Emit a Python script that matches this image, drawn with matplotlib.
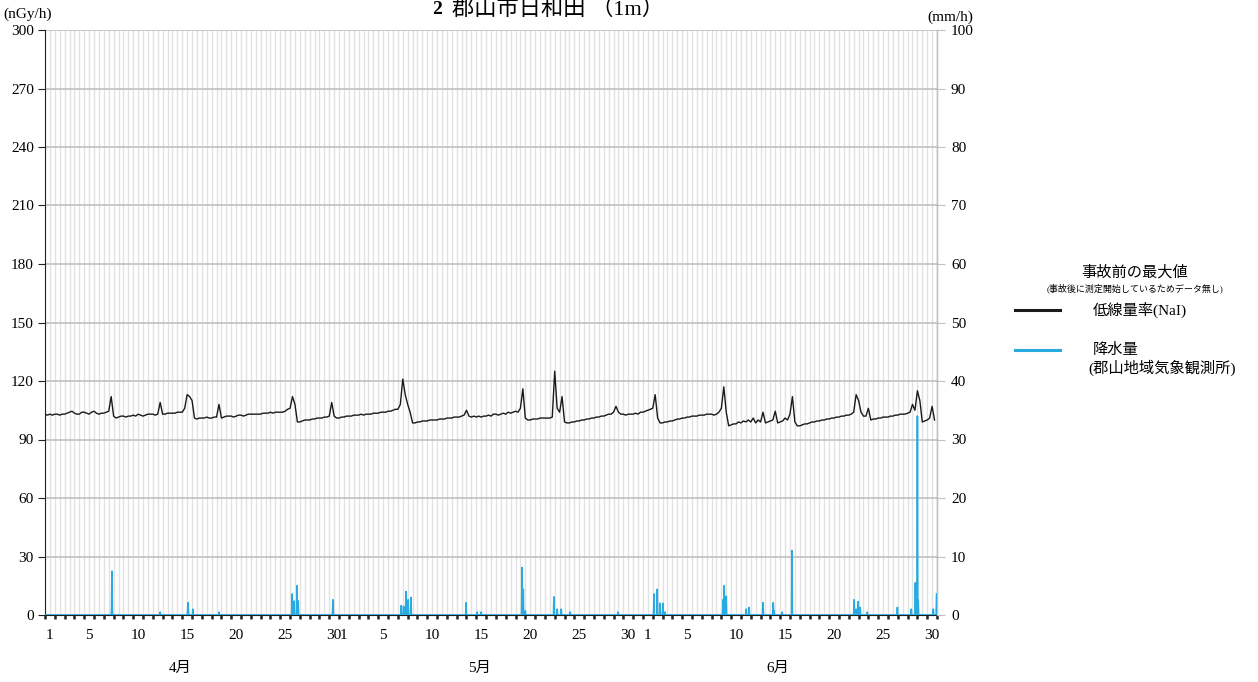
import numpy as np
import matplotlib
matplotlib.use("Agg")
import matplotlib.pyplot as plt
from matplotlib.lines import Line2D
import matplotlib.transforms as mtransforms

plt.rcParams['font.family'] = ['Liberation Serif', 'Noto Sans CJK JP', 'DejaVu Sans']

# ---------------- data ----------------
title_num = "2"
title = "郡山市日和田 （1m）"
months = ["4月", "5月", "6月"]
month_days = [30, 31, 30]
day_labels = [1, 5, 10, 15, 20, 25, 30]
samples_per_day = 4  # 00h, 06h, 12h, 18h

dose_apr = [
    103, 102.5, 103, 102.5,
    103, 103, 102.5, 103,
    103, 103.5, 104, 104.5,
    103.5, 103, 103, 104,
    104, 103.5, 103, 104,
    104.5, 103.5, 103, 103.5,
    103.5, 104, 104.5, 112,
    102, 101, 101.5, 102,
    102, 101.5, 102, 102,
    102.5, 102, 103, 102.5,
    102, 102.5, 103, 103,
    103, 102.5, 103, 109,
    103, 103, 103.5, 103.5,
    103.5, 103.5, 104, 104,
    104, 106, 113, 112,
    110, 101, 100.5, 101,
    101, 101, 101.5, 101,
    101, 101.5, 101.5, 108,
    101, 101.5, 102, 102,
    102, 101.5, 102, 102.5,
    102.5, 102, 102.5, 103,
    103, 103, 103, 103,
    103, 103.5, 103.5, 103.5,
    104, 103.5, 104, 104,
    104, 104, 104.5, 105.5,
    106, 112, 108, 99,
    99, 99.5, 100, 100,
    100, 100.5, 100.5, 101,
    101, 101, 101.5, 101.5,
    102, 109, 102, 101,
]
dose_may = [
    101, 101.5, 101.5, 102,
    102, 102, 102.5, 102.5,
    102.5, 103, 102.5, 103,
    103, 103, 103.5, 103.5,
    103.5, 104, 104, 104,
    104.5, 104.5, 105, 105.5,
    105.5, 108, 121, 113,
    108, 104, 98.5, 98.5,
    99, 99, 99.5, 99.5,
    99.5, 100, 100, 100,
    100, 100.5, 100.5, 100.5,
    101, 101, 101, 101.5,
    101.5, 101.5, 102, 102.5,
    105, 102, 101.5, 102,
    101.5, 102, 101.5, 102,
    102, 102.5, 102, 103,
    103, 102.5, 103, 103.5,
    103, 104, 103.5, 104,
    104.5, 104, 106, 116,
    101, 100, 100, 100.5,
    100.5, 100.5, 101, 101,
    101, 101, 101, 101.5,
    125, 106, 104, 112,
    99, 98.5, 98.5, 99,
    99, 99.5, 99.5, 100,
    100, 100.5, 100.5, 101,
    101, 101.5, 101.5, 102,
    102, 102.5, 103, 103,
    104, 107, 104, 103,
    103, 102.5, 103, 103,
    103, 103.5, 103, 104,
]
dose_jun = [
    104, 104.5, 105, 105.5,
    106, 113, 101, 98.5,
    98.5, 99, 99, 99.5,
    99.5, 100, 100.5, 100.5,
    101, 101, 101.5, 101.5,
    102, 102, 102, 102.5,
    102.5, 102.5, 103, 103,
    103, 102.5, 103, 104,
    106, 117, 104, 97,
    97.5, 98, 98, 99,
    98.5, 99.5, 99, 100,
    99, 101, 98.5, 100,
    99, 104, 98.5, 99,
    99.5, 100, 104.5, 98.5,
    99, 99.5, 101, 100,
    103, 112, 99, 97,
    97, 97.5, 98, 98,
    98.5, 99, 99, 99.5,
    99.5, 100, 100, 100.5,
    100.5, 101, 101, 101.5,
    101.5, 102, 102, 102.5,
    102.5, 103, 104, 113,
    110, 104, 102, 102,
    106, 100, 100.5, 100.5,
    101, 101, 101.5, 101.5,
    101.5, 102, 102, 102.5,
    102.5, 103, 103, 103,
    103.5, 104, 108, 105,
    115, 110, 99, 99.5,
    100, 101, 107, 100,
]

# precipitation: hour since 4/1 00:00 and mm/h (all other hours 0)
rain_hour = [163, 164, 165, 282, 349, 350, 351, 362, 426,
             605, 610, 617, 620, 704, 705, 706,
             872, 878, 884, 889, 896, 1031, 1058, 1068,
             1168, 1171, 1176, 1246, 1254, 1264, 1286, 1403,
             1491, 1499, 1506, 1513, 1518, 1660, 1663, 1668,
             1717, 1724, 1758, 1783, 1785, 1805, 1829,
             1981, 1986, 1991, 1996, 2013, 2087,
             2121, 2131, 2136, 2138, 2175, 2183]
rain_mmh = [1, 7.5, 0.5, 0.5, 0.5, 2.1, 1, 1, 0.5,
            3.6, 2.4, 5, 2.4, 0.5, 2.6, 0.5,
            1.6, 1.5, 4, 2.6, 3, 2.1, 0.5, 0.5,
            8.1, 4.4, 0.7, 3.1, 1, 1, 0.5, 0.5,
            3.6, 4.4, 2, 2, 0.5, 2.6, 5, 3.2,
            1, 1.3, 2.1, 2.1, 0.7, 0.5, 11,
            2.6, 1, 2.3, 1.3, 0.5, 1.3,
            1, 5.5, 34, 2.6, 1, 3.6]

# ---------------- build series ----------------
n_days = sum(month_days)
dose = np.array(dose_apr + dose_may + dose_jun, dtype=float)
t_dose = np.arange(len(dose)) / samples_per_day

rain = np.zeros(n_days * 24)
rain[np.array(rain_hour)] = rain_mmh
t_rain = np.arange(len(rain)) / 24.0

# ---------------- figure ----------------
W, H = 1258, 682
fig = plt.figure(figsize=(W / 100, H / 100), dpi=100)
ax = fig.add_axes([45 / W, 1 - 615 / H, (937 - 45) / W, (615 - 30) / H])
ax2 = ax.twinx()

grid_light = "#e2e2e2"
grid_dark = "#c0c0c0"

ax.plot(t_dose, dose, color="#1a1a1a", lw=1.0, zorder=3)
ax2.plot(t_rain, rain, color="#29abe2", lw=1.2, zorder=3)

ax.set_xlim(0, n_days)
ax.set_ylim(0, 300)
ax2.set_ylim(0, 100)
ax.set_yticks(np.arange(0, 301, 30))
ax2.set_yticks(np.arange(0, 101, 10))

# x ticks: labels at day centres, tick marks at day boundaries
centers, labels = [], []
start = 0
for nd in month_days:
    for d in range(1, nd + 1):
        centers.append(start + d - 0.5)
        labels.append(str(d) if d in day_labels else "")
    start += nd
ax.set_xticks(centers)
ax.set_xticklabels(labels, fontsize=11)
ax.set_xticks(np.arange(0, n_days + 1), minor=True)
ax.tick_params(axis="x", which="major", length=0, pad=10)
ax.tick_params(axis="x", which="minor", length=3, width=1.8, color="#222222", direction="out")
ax.grid(axis="x", which="both", color=grid_light, lw=1.0, zorder=0)
ax.grid(axis="y", which="major", color=grid_dark, lw=1.2, zorder=0)

ax.tick_params(axis="y", labelsize=11, length=5, color="#222222", pad=3)
ax2.tick_params(axis="y", labelsize=11, length=6, color=grid_dark, pad=4)

for s in ["top"]:
    ax.spines[s].set_visible(False)
    ax2.spines[s].set_visible(False)
ax.spines["left"].set_color("#222222")
ax.spines["bottom"].set_color("#222222")
ax2.spines["right"].set_color(grid_dark)
ax2.spines["left"].set_visible(False)
ax2.spines["bottom"].set_visible(False)

# month labels
trans = mtransforms.blended_transform_factory(ax.transData, fig.transFigure)
start = 0
for m, nd in zip(months, month_days):
    ax.text(start + nd / 2 - 1.2, 1 - 668 / H, m, transform=trans,
            ha="center", va="center", fontsize=11)
    start += nd

# titles and units
fig.text(437 / W, 1 - 9 / H, title_num, ha="center", va="center", fontsize=14, fontweight="bold")
fig.text(452 / W, 1 - 9 / H, title, ha="left", va="center", fontsize=16)
fig.text(3 / W, 1 - 14 / H, "(nGy/h)", ha="left", va="center", fontsize=11)
fig.text(950 / W, 1 - 17 / H, "(mm/h)", ha="center", va="center", fontsize=11)

# legend (drawn manually)
fig.text(1135 / W, 1 - 272 / H, "事故前の最大値", ha="center", va="center", fontsize=11)
fig.text(1135 / W, 1 - 288 / H, "(事故後に測定開始しているためデータ無し)",
         ha="center", va="center", fontsize=6.5)
fig.add_artist(Line2D([1015 / W, 1060 / W], [1 - 310 / H, 1 - 310 / H],
                      color="#1a1a1a", lw=2.2, transform=fig.transFigure))
fig.text(1093 / W, 1 - 310 / H, "低線量率(NaI)", ha="left", va="center", fontsize=11)
fig.add_artist(Line2D([1015 / W, 1060 / W], [1 - 350 / H, 1 - 350 / H],
                      color="#29abe2", lw=2.2, transform=fig.transFigure))
fig.text(1093 / W, 1 - 350 / H, "降水量", ha="left", va="center", fontsize=11)
fig.text(1088 / W, 1 - 368 / H, "(郡山地域気象観測所)", ha="left", va="center", fontsize=11)

fig.savefig("out.png", dpi=100)
